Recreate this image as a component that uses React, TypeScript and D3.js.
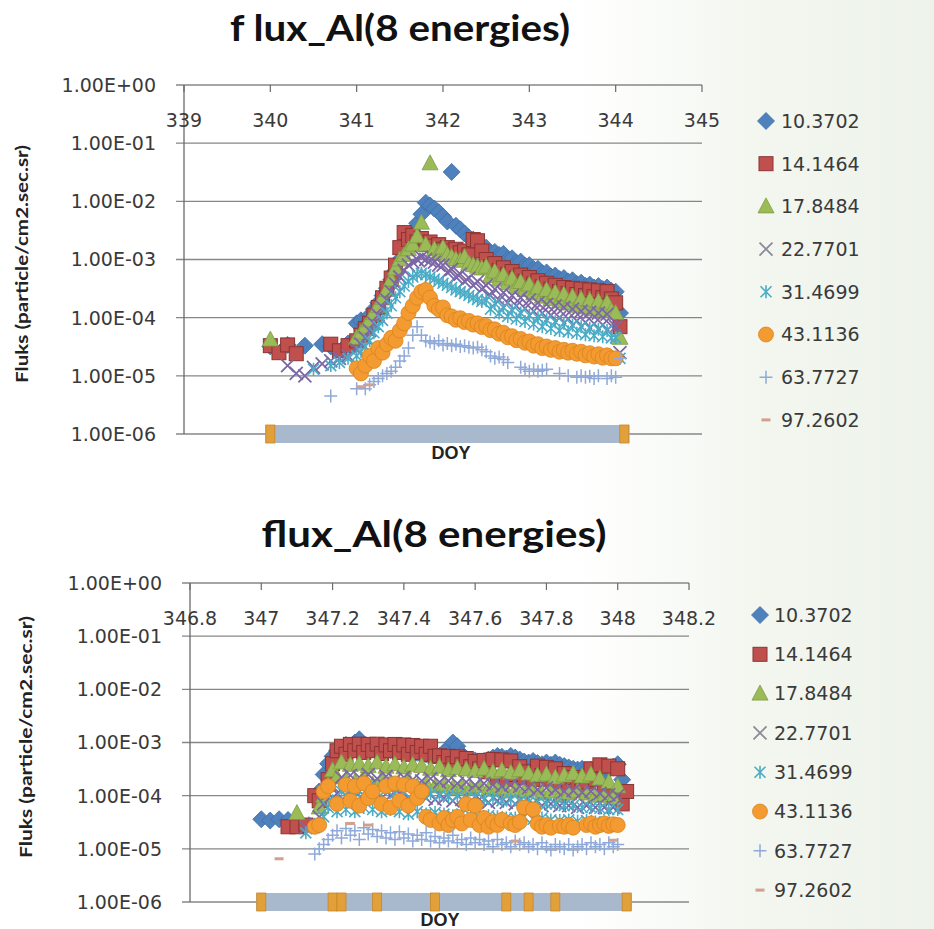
import React from 'react';
import * as d3 from 'd3';

// ---------------- data ----------------
const ENERGY_LABELS = ['10.3702', '14.1464', '17.8484', '22.7701', '31.4699', '43.1136', '63.7727', '97.2602'];

const Y_TICKS = [1, 1e-1, 1e-2, 1e-3, 1e-4, 1e-5, 1e-6];
const Y_TICK_LABELS = ['1.00E+00', '1.00E-01', '1.00E-02', '1.00E-03', '1.00E-04', '1.00E-05', '1.00E-06'];

const TOP_X_TICKS = [339, 340, 341, 342, 343, 344, 345];
const TOP_X_TICK_LABELS = ['339', '340', '341', '342', '343', '344', '345'];
const BOT_X_TICKS = [346.8, 347, 347.2, 347.4, 347.6, 347.8, 348, 348.2];
const BOT_X_TICK_LABELS = ['346.8', '347', '347.2', '347.4', '347.6', '347.8', '348', '348.2'];

const TOP_TITLE = 'f lux_Al(8 energies)';
const BOT_TITLE = 'flux_Al(8 energies)';
const Y_TITLE = 'Fluks (particle/cm2.sec.sr)';
const X_TITLE = 'DOY';

// top chart (DOY 340 - 344)
const TOP_DAYS = [
  340.0, 340.1, 340.2, 340.3, 340.4, 340.5, 340.6, 340.7, 340.8, 340.9,
  341.0, 341.05, 341.1, 341.15, 341.2, 341.25, 341.3, 341.35, 341.4, 341.45,
  341.5, 341.55, 341.6, 341.65, 341.7, 341.75, 341.8, 341.85, 341.9, 341.95,
  342.0, 342.05, 342.1, 342.15, 342.2, 342.25, 342.3, 342.35, 342.4, 342.45,
  342.5, 342.55, 342.6, 342.65, 342.7, 342.75, 342.8, 342.85, 342.9, 342.95,
  343.0, 343.05, 343.1, 343.15, 343.2, 343.25, 343.3, 343.35, 343.4, 343.45,
  343.5, 343.55, 343.6, 343.65, 343.7, 343.75, 343.8, 343.85, 343.9, 343.95,
  344.0, 344.05, 344.1,
];
const TOP_E1 = [
  3.2e-5, null, 3.4e-5, null, 3.3e-5, null, 3.5e-5, 3.2e-5, null, 3.6e-5,
  8e-5, 9e-5, 7.5e-5, 1.1e-4, 1.4e-4, 1.8e-4, 2.4e-4, 3.2e-4, 4.5e-4, 6.5e-4,
  1.0e-3, 1.5e-3, 2.2e-3, 3.0e-3, 4.2e-3, 6.0e-3, 9.5e-3, 8.5e-3, 7.5e-3, 6.5e-3,
  5.5e-3, 4.5e-3, 3.2e-2, 3.8e-3, 3.3e-3, 2.8e-3, 2.4e-3, 2.2e-3, 1.9e-3, 1.7e-3,
  1.6e-3, 1.3e-3, 1.35e-3, 1.2e-3, 1.25e-3, 1.0e-3, 1.05e-3, 8.8e-4, 9.2e-4, 7.8e-4,
  8e-4, 6.8e-4, 6.9e-4, 5.8e-4, 6e-4, 5.1e-4, 5.3e-4, 4.6e-4, 4.8e-4, 4.2e-4,
  4.4e-4, 3.8e-4, 4e-4, 3.5e-4, 3.7e-4, 3.3e-4, 3.5e-4, 3.1e-4, 3.3e-4, 2.9e-4,
  2.8e-4, 1.2e-4, null,
];
const TOP_E2 = [
  3.3e-5, 2.5e-5, 3.4e-5, 2.4e-5, null, null, null, 3.5e-5, 2.7e-5, 3.3e-5,
  4e-5, 5e-5, 6.5e-5, 8e-5, 1.1e-4, 1.5e-4, 2.2e-4, 3.2e-4, 4.8e-4, 8e-4,
  1.6e-3, 2.9e-3, 2.2e-3, 2.6e-3, 2.0e-3, 2.3e-3, 1.8e-3, 2.0e-3, 1.7e-3, 1.8e-3,
  1.5e-3, 1.6e-3, 1.4e-3, 1.5e-3, 1.3e-3, 1.4e-3, 1.2e-3, 2.2e-3, 2.1e-3, 1.4e-3,
  1.0e-3, 7.5e-4, 8.5e-4, 6.4e-4, 7.2e-4, 5.5e-4, 6.2e-4, 4.8e-4, 5.4e-4, 4.2e-4,
  4.9e-4, 3.8e-4, 4.3e-4, 3.4e-4, 3.9e-4, 3.1e-4, 3.6e-4, 2.8e-4, 3.3e-4, 2.6e-4,
  3.2e-4, 2.5e-4, 3.1e-4, 2.4e-4, 3.0e-4, 2.3e-4, 2.9e-4, 2.2e-4, 2.8e-4, 2.1e-4,
  1.8e-4, 7e-5, null,
];
const TOP_E3 = [
  4.2e-5, null, null, null, null, null, null, null, null, null,
  4.5e-5, 5.5e-5, 7e-5, 9e-5, 1.2e-4, 1.6e-4, 2.2e-4, 3e-4, 4.5e-4, 7e-4,
  1.0e-3, 1.2e-3, 1.5e-3, 1.8e-3, 2.5e-3, 4.3e-3, 1.8e-3, 4.5e-2, 1.5e-3, 1.3e-3,
  1.6e-3, 1.2e-3, 1.1e-3, 1.0e-3, 9.5e-4, 1.1e-3, 8.5e-4, 8e-4, 7.5e-4, 7e-4,
  7.5e-4, 5.2e-4, 6.2e-4, 4.5e-4, 5.4e-4, 3.9e-4, 4.7e-4, 3.4e-4, 4.1e-4, 3.0e-4,
  3.7e-4, 2.6e-4, 3.3e-4, 2.3e-4, 3.0e-4, 2.1e-4, 2.7e-4, 1.9e-4, 2.5e-4, 1.75e-4,
  2.3e-4, 1.6e-4, 2.1e-4, 1.5e-4, 2.0e-4, 1.4e-4, 1.9e-4, 1.35e-4, 1.8e-4, 1.3e-4,
  1.2e-4, 4.5e-5, null,
];
const TOP_E4 = [
  null, null, 1.5e-5, 1.1e-5, 1.0e-5, 1.4e-5, 1.6e-5, 1.8e-5, 2.0e-5, 2.2e-5,
  2.8e-5, 3.5e-5, 4.5e-5, 6e-5, 8e-5, 1.1e-4, 1.5e-4, 2e-4, 2.8e-4, 3.8e-4,
  5e-4, 6.5e-4, 8e-4, 9e-4, 1.0e-3, 1.1e-3, 1.0e-3, 9.5e-4, 9e-4, 8e-4,
  8e-4, 6e-4, 6.8e-4, 5e-4, 5.6e-4, 4.2e-4, 4.8e-4, 3.6e-4, 4.2e-4, 3.1e-4,
  3.6e-4, 2.4e-4, 3.1e-4, 2.0e-4, 2.7e-4, 1.8e-4, 2.4e-4, 1.6e-4, 2.2e-4, 1.45e-4,
  2.0e-4, 1.3e-4, 1.8e-4, 1.2e-4, 1.7e-4, 1.1e-4, 1.6e-4, 1.0e-4, 1.5e-4, 9.5e-5,
  1.4e-4, 8.8e-5, 1.3e-4, 8.3e-5, 1.25e-4, 7.9e-5, 1.2e-4, 7.5e-5, 1.15e-4, 7.2e-5,
  7e-5, 2.5e-5, null,
];
const TOP_E5 = [
  null, null, null, null, null, 1.3e-5, null, 1.5e-5, 1.7e-5, 2.0e-5,
  2.2e-5, 2.6e-5, 3.2e-5, 4e-5, 5.5e-5, 7e-5, 9e-5, 1.2e-4, 1.6e-4, 2.2e-4,
  2.8e-4, 3.5e-4, 4.2e-4, 5e-4, 5.5e-4, 5.8e-4, 5.5e-4, 5e-4, 4.6e-4, 4.2e-4,
  3.9e-4, 3.6e-4, 3.3e-4, 3e-4, 2.8e-4, 2.6e-4, 2.4e-4, 2.2e-4, 2.05e-4, 1.9e-4,
  2.0e-4, 1.4e-4, 1.75e-4, 1.2e-4, 1.5e-4, 1.05e-4, 1.35e-4, 9.5e-5, 1.2e-4, 8.6e-5,
  1.1e-4, 7.8e-5, 1.0e-4, 7e-5, 9.2e-5, 6.5e-5, 8.5e-5, 6e-5, 8e-5, 5.7e-5,
  7.4e-5, 5.4e-5, 7e-5, 5.1e-5, 6.6e-5, 4.9e-5, 6.3e-5, 4.7e-5, 6e-5, 4.5e-5,
  4.5e-5, 2e-5, null,
];
const TOP_E6 = [
  0, null, null, null, null, null, null, null, null, null,
  1.35e-5, 1.1e-5, 1.5e-5, 2.2e-5, 1.8e-5, 3e-5, 2.5e-5, 3.5e-5, 4.5e-5, 4e-5,
  6e-5, 8e-5, 1.2e-4, 1.6e-4, 2.2e-4, 2.8e-4, 3e-4, 2.2e-4, 1.6e-4, 1.4e-4,
  1.5e-4, 1.1e-4, 1.05e-4, 9.2e-5, 9.8e-5, 8.4e-5, 8.8e-5, 7.6e-5, 8e-5, 6.9e-5,
  7.2e-5, 6.1e-5, 6.3e-5, 5.3e-5, 5.5e-5, 4.6e-5, 4.8e-5, 4.1e-5, 4.3e-5, 3.7e-5,
  3.9e-5, 3.3e-5, 3.5e-5, 3.0e-5, 3.2e-5, 2.8e-5, 3.0e-5, 2.6e-5, 2.8e-5, 2.5e-5,
  2.7e-5, 2.4e-5, 2.6e-5, 2.25e-5, 2.45e-5, 2.15e-5, 2.35e-5, 2.05e-5, 2.25e-5, 2e-5,
  2e-5, null, 0,
];
const TOP_E7 = [
  null, null, null, null, null, null, null, 4.5e-6, null, null,
  6e-6, null, 6e-6, 7e-6, 8e-6, 9e-6, 1.0e-5, 1.1e-5, 1.2e-5, 1.4e-5,
  1.8e-5, 2.2e-5, 3e-5, 5e-5, 7e-5, 5e-5, 4e-5, 3.8e-5, 3.6e-5, 4e-5,
  3.4e-5, 3.6e-5, 3.3e-5, 3.5e-5, 3.2e-5, 3.3e-5, 3.1e-5, 3e-5, 3.1e-5, 2.8e-5,
  2.6e-5, 2.2e-5, 2e-5, 2.1e-5, 1.9e-5, 1.7e-5, null, null, 1.4e-5, 1.3e-5,
  1.2e-5, 1.3e-5, 1.2e-5, 1.25e-5, 1.3e-5, null, null, 1.1e-5, null, 1.0e-5,
  null, 9.5e-6, 1.0e-5, 9.5e-6, 9.8e-6, 9e-6, 1.0e-5, null, 9e-6, 1.0e-5,
  9.5e-6, 2e-5, null,
];
const TOP_E8 = [
  0, 0, 0, 0, 0, 0, 0, 0, 0, 0,
  0, 6.5e-6, 0, 7e-6, 0, 0, 0, 0, 0, 0,
  0, 0, 0, 0, 0, 0, 0, 0, 0, 0,
  0, 0, 0, 0, 0, 0, 0, 0, 0, 0,
  0, 0, 0, 0, 0, 0, 0, 0, 0, 0,
  0, 0, 0, 0, 0, 0, 0, 0, 0, 0,
  0, 0, 0, 0, 0, 0, 0, 0, 0, 0,
  0, 0, 0,
];

// bottom chart (DOY 347 - 348)
const BOT_DAYS = [
  347.0, 347.025, 347.05, 347.075, 347.1, 347.125, 347.15, 347.1625, 347.175, 347.1875,
  347.2, 347.2125, 347.225, 347.2375, 347.25, 347.2625, 347.275, 347.2875, 347.3, 347.3125,
  347.325, 347.3375, 347.35, 347.3625, 347.375, 347.3875, 347.4, 347.4125, 347.425, 347.4375,
  347.45, 347.4625, 347.475, 347.4875, 347.5, 347.5125, 347.525, 347.5375, 347.55, 347.5625,
  347.575, 347.5875, 347.6, 347.6125, 347.625, 347.6375, 347.65, 347.6625, 347.675, 347.6875,
  347.7, 347.7125, 347.725, 347.7375, 347.75, 347.7625, 347.775, 347.7875, 347.8, 347.8125,
  347.825, 347.8375, 347.85, 347.8625, 347.875, 347.8875, 347.9, 347.9125, 347.925, 347.9375,
  347.95, 347.9625, 347.975, 347.9875, 348.0, 348.0125, 348.025,
];
const BOT_E1 = [
  3.6e-5, 3.4e-5, 3.6e-5, 3.5e-5, null, null, null, 1.2e-4, 2.5e-4, 4e-4,
  5.5e-4, 7e-4, 8e-4, 9e-4, 8.5e-4, 1.0e-3, 1.15e-3, 9e-4, 8e-4, 7.5e-4,
  7.5e-4, 7e-4, 7.5e-4, 7.2e-4, 7e-4, 6.8e-4, 7e-4, 6.5e-4, 6.8e-4, 6.4e-4,
  6.5e-4, 6e-4, 6.2e-4, 5.8e-4, 5.6e-4, 6.5e-4, 8e-4, 1.0e-3, 8.5e-4, 6e-4,
  5e-4, 4.5e-4, 4.6e-4, 4.3e-4, 4.5e-4, 4.8e-4, 5.2e-4, 5.6e-4, 5.4e-4, 5e-4,
  5.6e-4, 5.2e-4, 4.8e-4, 4.4e-4, 4.2e-4, 4.5e-4, 4.1e-4, 3.9e-4, 4.2e-4, 3.8e-4,
  4.2e-4, 3.8e-4, 3.6e-4, 3.4e-4, 3.2e-4, 3.1e-4, 3.2e-4, 3e-4, 3.1e-4, 2.9e-4,
  3e-4, 2.8e-4, 3.1e-4, 3.5e-4, 3.9e-4, 2e-4, null,
];
const BOT_E2 = [
  null, null, null, 2.6e-5, 2.6e-5, 2.8e-5, 1.0e-4, 8e-5, null, 2e-4,
  4e-4, 7e-4, 8.5e-4, 6e-4, 9.2e-4, 7e-4, 9.3e-4, 6.5e-4, 9.2e-4, 7e-4,
  9.3e-4, 6.2e-4, 9e-4, 7e-4, 9.2e-4, 6.5e-4, 9e-4, 6e-4, 8.8e-4, 6.5e-4,
  8.5e-4, 6e-4, 8.5e-4, 5.5e-4, 5.6e-4, 4.2e-4, 5.5e-4, 4e-4, 5.4e-4, 3.8e-4,
  5e-4, 3.5e-4, 4.4e-4, 3.2e-4, 4.6e-4, 2.8e-4, 4.8e-4, 2.2e-4, 4.7e-4, 2e-4,
  4.5e-4, 2.5e-4, 3.5e-4, 2.2e-4, 2.8e-4, 2e-4, 3.6e-4, 2.4e-4, 3.4e-4, 2e-4,
  3.2e-4, 1.8e-4, 2.6e-4, 1.6e-4, 2.2e-4, 1.5e-4, 2e-4, 1.8e-4, 3.2e-4, 2e-4,
  3.8e-4, 1.5e-4, 3.6e-4, 1e-4, 3.2e-4, 7e-5, 1.2e-4,
];
const BOT_E3 = [
  null, null, null, null, 4.7e-5, null, null, 6e-5, 1e-4, 1.6e-4,
  3e-4, 2.2e-4, 4.2e-4, 2e-4, 3.8e-4, 1.8e-4, 4e-4, 2.2e-4, 3.6e-4, 1.6e-4,
  4.2e-4, 2e-4, 3.5e-4, 1.8e-4, 3.9e-4, 1.6e-4, 3.4e-4, 2e-4, 3.8e-4, 1.5e-4,
  3.6e-4, 1.7e-4, 3.2e-4, 1.5e-4, 3.5e-4, 1.6e-4, 3e-4, 1.4e-4, 3.3e-4, 1.5e-4,
  3.1e-4, 1.4e-4, 2.9e-4, 1.5e-4, 3.2e-4, 1.3e-4, 2.8e-4, 1.4e-4, 3e-4, 1.2e-4,
  2.7e-4, 1.3e-4, 3e-4, 1.2e-4, 2.6e-4, 1.3e-4, 2.4e-4, 1.1e-4, 2.5e-4, 1.2e-4,
  2.2e-4, 1e-4, 2.4e-4, 1.1e-4, 2.6e-4, 1.2e-4, 2.3e-4, 1.1e-4, 2.5e-4, 1e-4,
  2.1e-4, 1e-4, 1.8e-4, 9e-5, 1.5e-4, null, null,
];
const BOT_E4 = [
  null, null, null, null, null, 2.5e-5, 3e-5, 4e-5, 7e-5, 1.1e-4,
  1.5e-4, 1.1e-4, 2.2e-4, 1e-4, 2.4e-4, 1.2e-4, 2.2e-4, 1e-4, 2.5e-4, 1.1e-4,
  2.1e-4, 9e-5, 2.3e-4, 1e-4, 2e-4, 1.1e-4, 2.2e-4, 9e-5, 2e-4, 1e-4,
  1.9e-4, 9e-5, 2.1e-4, 8.5e-5, 1.8e-4, 9e-5, 1.9e-4, 8e-5, 1.7e-4, 8.5e-5,
  1.8e-4, 8e-5, 1.6e-4, 8.5e-5, 1.7e-4, 7.5e-5, 1.6e-4, 8e-5, 1.5e-4, 7.5e-5,
  1.6e-4, 7e-5, 1.5e-4, 7.5e-5, 1.4e-4, 7e-5, 1.3e-4, 6.5e-5, 1.4e-4, 7e-5,
  1.3e-4, 6.5e-5, 1.2e-4, 6.5e-5, 1.25e-4, 6e-5, 1.15e-4, 6.5e-5, 1.2e-4, 6e-5,
  1.1e-4, 6e-5, 1.05e-4, 6e-5, 1e-4, null, null,
];
const BOT_E5 = [
  null, null, null, null, null, 2e-5, 2.5e-5, 3e-5, 4e-5, 6e-5,
  8e-5, 5e-5, 1.2e-4, 5.5e-5, 1.3e-4, 5e-5, 1.2e-4, 6e-5, 1.4e-4, 5.5e-5,
  1.2e-4, 5e-5, 1.3e-4, 5.5e-5, 1.1e-4, 5e-5, 1.2e-4, 4.5e-5, 1.1e-4, 5e-5,
  1.05e-4, 4.5e-5, 1.1e-4, 4.8e-5, 1e-4, 4.5e-5, 9.5e-5, 4.2e-5, 1e-4, 4.5e-5,
  9e-5, 4.2e-5, 9.5e-5, 4e-5, 8.5e-5, 4.2e-5, 9e-5, 4e-5, 8e-5, 3.8e-5,
  8.5e-5, 3.8e-5, 8e-5, 4e-5, 7.5e-5, 3.6e-5, 7.5e-5, 3.8e-5, 7e-5, 3.5e-5,
  7e-5, 3.4e-5, 6.5e-5, 3.5e-5, 6.5e-5, 3.3e-5, 6e-5, 3.4e-5, 6e-5, 3.2e-5,
  5.8e-5, 3.2e-5, 5.5e-5, 3e-5, 5.5e-5, null, null,
];
const BOT_E6 = [
  0, null, null, null, null, null, 2.6e-5, 2.8e-5, 1.2e-4, 1.5e-4,
  0, 7e-5, 0, 1.6e-4, 8e-5, 1.5e-4, 6.5e-5, 1.7e-4, 9e-5, 1.2e-4,
  0, 7e-5, 1.5e-4, 6e-5, 1.7e-4, 8e-5, 1.6e-4, 6.5e-5, 1.5e-4, 9e-5,
  1.2e-4, 4e-5, 3.5e-5, 0, 3e-5, 3.8e-5, 2.8e-5, 3.5e-5, 4e-5, 3e-5,
  7e-5, 3.5e-5, 6.5e-5, 2.8e-5, 3.8e-5, 2.6e-5, 3.2e-5, 2.8e-5, 3.5e-5, 0,
  3e-5, 2.8e-5, 3.2e-5, 6e-5, 0, 5.5e-5, 3e-5, 2.6e-5, 2.8e-5, 2.5e-5,
  0, 2.7e-5, 2.6e-5, 2.8e-5, 2.5e-5, null, null, 2.8e-5, 3e-5, 2.6e-5,
  2.8e-5, 3e-5, 2.7e-5, 2.9e-5, 2.8e-5, null, 0,
];
const BOT_E7 = [
  null, null, null, null, null, null, 8e-6, 1e-5, 1.2e-5, 1.5e-5,
  1.8e-5, 2.2e-5, 1.6e-5, 2.4e-5, 1.8e-5, 2.2e-5, 1.5e-5, 2.5e-5, 1.9e-5, 2.3e-5,
  1.7e-5, 2.2e-5, 1.6e-5, 2e-5, 1.5e-5, 2.1e-5, 1.6e-5, 1.9e-5, 1.4e-5, 1.8e-5,
  1.5e-5, 2e-5, 1.4e-5, 1.7e-5, 1.3e-5, 1.6e-5, 1.4e-5, 1.8e-5, 1.3e-5, 1.5e-5,
  1.2e-5, 1.6e-5, 1.3e-5, 1.5e-5, 1.2e-5, 1.4e-5, 1.1e-5, 1.5e-5, 1.2e-5, 1.3e-5,
  1.1e-5, 1.4e-5, 1.2e-5, 1.3e-5, 1.1e-5, 1.2e-5, 1e-5, 1.3e-5, 1.1e-5, 9.5e-6,
  1.2e-5, 1.1e-5, 1e-5, 1.2e-5, 9.5e-6, 1.1e-5, 1.2e-5, 1e-5, 1.3e-5, 1.1e-5,
  1.2e-5, 1e-5, 1.3e-5, 1.1e-5, 1.2e-5, null, null,
];
const BOT_E8 = [
  0, 0, 6.5e-6, 0, 0, 0, 0, 0, 0, 0,
  0, 0, 0, 0, 3e-5, 0, 0, 0, 2.8e-5, 0,
  0, 0, 0, 0, 0, 0, 0, 0, 0, 0,
  0, 0, 0, 0, 0, 0, 0, 0, 0, 0,
  0, 0, 0, 0, 0, 0, 0, 0, 0, 0,
  0, 1.4e-5, 0, 0, 0, 0, 0, 0, 0, 0,
  0, 0, 0, 0, 0, 0, 0, 0, 0, 0,
  0, 0, 0, 1.45e-5, 0, 0, 0,
];

// ---------------- styles ----------------
type Shape = 'diamond' | 'square' | 'triangle' | 'x' | 'asterisk' | 'circle' | 'plus' | 'dash';
const SERIES_STYLE: { shape: Shape; fill: string; stroke: string }[] = [
  { shape: 'diamond', fill: '#4F81BD', stroke: '#3e6ea8' },
  { shape: 'square', fill: '#C0504D', stroke: '#8a3432' },
  { shape: 'triangle', fill: '#9BBB59', stroke: '#7f9c42' },
  { shape: 'x', fill: 'none', stroke: '#7C67A6' },
  { shape: 'asterisk', fill: 'none', stroke: '#4BACC6' },
  { shape: 'circle', fill: '#F39A30', stroke: '#d9841f' },
  { shape: 'plus', fill: 'none', stroke: '#8FA9D8' },
  { shape: 'dash', fill: '#D2A08C', stroke: 'none' },
];
const FLOOR_BAND = '#A9B9CD';
const FLOOR_EDGE = '#E2A03A';
const TICK_FONT = "'DejaVu Sans', Verdana, sans-serif";
const TEXT_COLOR = '#3a3a3a';
const GRID = '#878787';

function Marker({ shape, x, y, fill, stroke }: { shape: Shape; x: number; y: number; fill: string; stroke: string }) {
  switch (shape) {
    case 'diamond':
      return <path d={`M${x},${y - 8.5}L${x + 8.5},${y}L${x},${y + 8.5}L${x - 8.5},${y}Z`} fill={fill} stroke={stroke} strokeWidth={0.8} />;
    case 'square':
      return <rect x={x - 7} y={y - 7} width={14} height={14} fill={fill} stroke={stroke} strokeWidth={1} />;
    case 'triangle':
      return <path d={`M${x},${y - 8.5}L${x + 8},${y + 6.5}L${x - 8},${y + 6.5}Z`} fill={fill} stroke={stroke} strokeWidth={0.8} />;
    case 'x':
      return <path d={`M${x - 6.5},${y - 6.5}L${x + 6.5},${y + 6.5}M${x - 6.5},${y + 6.5}L${x + 6.5},${y - 6.5}`} stroke={stroke} strokeWidth={1.8} fill="none" />;
    case 'asterisk':
      return <path d={`M${x - 5.5},${y - 5.5}L${x + 5.5},${y + 5.5}M${x - 5.5},${y + 5.5}L${x + 5.5},${y - 5.5}M${x},${y - 6.5}L${x},${y + 6.5}`} stroke={stroke} strokeWidth={1.6} fill="none" />;
    case 'circle':
      return <circle cx={x} cy={y} r={7.5} fill={fill} stroke={stroke} strokeWidth={0.8} />;
    case 'plus':
      return <path d={`M${x - 6.5},${y}L${x + 6.5},${y}M${x},${y - 6.5}L${x},${y + 6.5}`} stroke={stroke} strokeWidth={1.5} fill="none" />;
    case 'dash':
      return <rect x={x - 4.5} y={y - 1.5} width={9} height={3} fill={fill} />;
  }
  return null;
}

type Cfg = {
  title: string; titleX: number; titleY: number; titleLen: number;
  xDomain: [number, number]; xRange: [number, number]; yRange: [number, number];
  xTicks: number[]; xTickLabels: string[]; xLabelY: number; yLabelRight: number;
  yTitleX: number; yTitleY: number; yTitleLen: number;
  doyX: number; doyY: number;
  legendSymX: number; legendTextX: number; legendY0: number; legendStep: number;
  days: number[]; series: (number | null)[][];
};

function Chart({ c }: { c: Cfg }) {
  const x = d3.scaleLinear().domain(c.xDomain).range(c.xRange);
  const y = d3.scaleLog().domain([1, 1e-6]).range(c.yRange);
  const floorY = y(1e-6);
  const x0 = c.xRange[0];
  const x1 = c.xRange[1];
  const dashSeries = c.series[7];
  const circleSeries = c.series[5];
  const n = c.days.length;
  return (
    <g>
      <text x={c.titleX} y={c.titleY} textAnchor="middle" fontFamily="Lato, 'Open Sans', sans-serif" fontWeight={700}
        fontSize={36} fill="#111" textLength={c.titleLen} lengthAdjust="spacingAndGlyphs">{c.title}</text>
      {Y_TICKS.map((t) => (
        <line key={'g' + t} x1={x0 - 8} x2={x1} y1={y(t)} y2={y(t)} stroke={GRID} strokeWidth={1.3} />
      ))}
      <line x1={x0} x2={x0} y1={y(1)} y2={floorY} stroke="#6a6a6a" strokeWidth={1.3} />
      {c.xTicks.map((t) => (
        <line key={'t' + t} x1={x(t)} x2={x(t)} y1={y(1)} y2={y(1) + 7} stroke="#6a6a6a" strokeWidth={1.2} />
      ))}
      {c.xTicks.map((t, i) => (
        <text key={'xl' + t} x={x(t)} y={c.xLabelY} dy="0.36em" textAnchor="middle" fontFamily={TICK_FONT}
          fontSize={19} fill={TEXT_COLOR}>{c.xTickLabels[i]}</text>
      ))}
      {Y_TICKS.map((t, i) => (
        <text key={'yl' + t} x={c.yLabelRight} y={y(t)} dy="0.36em" textAnchor="end" fontFamily={TICK_FONT}
          fontSize={19} fill={TEXT_COLOR}>{Y_TICK_LABELS[i]}</text>
      ))}
      <text transform={`translate(${c.yTitleX},${c.yTitleY}) rotate(-90)`} textAnchor="middle" dy="0.35em"
        fontFamily="Lato, 'Open Sans', sans-serif" fontWeight={700} fontSize={17} fill="#222"
        textLength={c.yTitleLen} lengthAdjust="spacingAndGlyphs">{Y_TITLE}</text>
      <text x={c.doyX} y={c.doyY} dy="0.36em" textAnchor="middle" fontFamily="'Liberation Sans', Arial, sans-serif"
        fontWeight={700} fontSize={18} fill="#222">{X_TITLE}</text>

      {c.series.map((s, si) => (
        <g key={'s' + si}>
          {s.map((v, i) =>
            v == null || v <= 0 ? null : (
              <Marker key={i} shape={SERIES_STYLE[si].shape} x={x(c.days[i])} y={y(v)}
                fill={SERIES_STYLE[si].fill} stroke={SERIES_STYLE[si].stroke} />
            ),
          )}
        </g>
      ))}
      {/* values at or below the axis floor */}
      {dashSeries.map((v, i) => {
        if (v !== 0) return null;
        const xa = x(c.days[i]) - 5;
        const xb = i < n - 1 ? x(c.days[i + 1]) + 5 : x(c.days[i]) + 5;
        return <rect key={'fb' + i} x={xa} y={floorY - 9} width={xb - xa} height={18} fill={FLOOR_BAND} />;
      })}
      {circleSeries.map((v, i) =>
        v === 0 ? (
          <rect key={'fc' + i} x={x(c.days[i]) - 4.5} y={floorY - 9} width={9} height={18} fill={FLOOR_EDGE}
            stroke="#c98525" strokeWidth={0.8} />
        ) : null,
      )}

      {ENERGY_LABELS.map((lab, i) => {
        const ly = c.legendY0 + i * c.legendStep;
        const st = SERIES_STYLE[i];
        return (
          <g key={'lg' + i}>
            <Marker shape={st.shape} x={c.legendSymX} y={ly} fill={st.fill}
              stroke={st.shape === 'x' ? '#8a8a9a' : st.stroke} />
            <text x={c.legendTextX} y={ly} dy="0.36em" fontFamily={TICK_FONT} fontSize={19} fill={TEXT_COLOR}>{lab}</text>
          </g>
        );
      })}
    </g>
  );
}

const TOP_CFG: Cfg = {
  title: TOP_TITLE, titleX: 400, titleY: 41, titleLen: 340,
  xDomain: [339, 345], xRange: [184, 702], yRange: [85, 434],
  xTicks: TOP_X_TICKS, xTickLabels: TOP_X_TICK_LABELS, xLabelY: 120, yLabelRight: 156,
  yTitleX: 22, yTitleY: 264, yTitleLen: 238,
  doyX: 451, doyY: 453,
  legendSymX: 766, legendTextX: 781, legendY0: 121, legendStep: 42.7,
  days: TOP_DAYS, series: [TOP_E1, TOP_E2, TOP_E3, TOP_E4, TOP_E5, TOP_E6, TOP_E7, TOP_E8],
};

const BOT_CFG: Cfg = {
  title: BOT_TITLE, titleX: 434, titleY: 547, titleLen: 345,
  xDomain: [346.8, 348.2], xRange: [190, 689], yRange: [583, 902],
  xTicks: BOT_X_TICKS, xTickLabels: BOT_X_TICK_LABELS, xLabelY: 618, yLabelRight: 162,
  yTitleX: 26, yTitleY: 737, yTitleLen: 242,
  doyX: 440, doyY: 920,
  legendSymX: 760, legendTextX: 774, legendY0: 615, legendStep: 39.3,
  days: BOT_DAYS, series: [BOT_E1, BOT_E2, BOT_E3, BOT_E4, BOT_E5, BOT_E6, BOT_E7, BOT_E8],
};

export default function App() {
  return (
    <svg width={934} height={929} viewBox="0 0 934 929" style={{ position: 'absolute', left: 0, top: 0, display: 'block' }}>
      <defs>
        <linearGradient id="paper" x1="0" x2="1" y1="0" y2="0">
          <stop offset="0" stopColor="#ffffff" />
          <stop offset="0.62" stopColor="#ffffff" />
          <stop offset="0.8" stopColor="#f3f7f0" />
          <stop offset="1" stopColor="#edf2ea" />
        </linearGradient>
      </defs>
      <rect x={0} y={0} width={934} height={929} fill="url(#paper)" />
      <Chart c={TOP_CFG} />
      <Chart c={BOT_CFG} />
    </svg>
  );
}
